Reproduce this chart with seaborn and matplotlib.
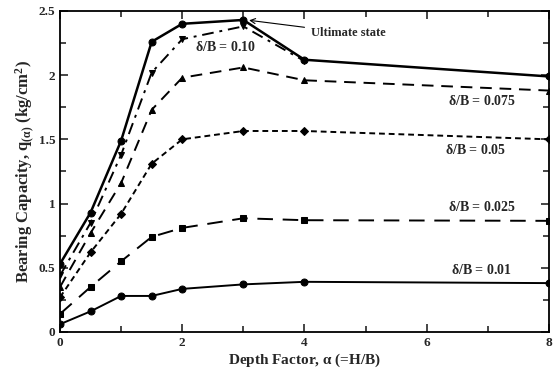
import matplotlib
matplotlib.use("Agg")
import matplotlib.pyplot as plt
import seaborn as sns

# depth factor values
x_full = [0, 0.5, 1, 1.5, 2, 3, 4, 8]
x_010 = [0, 0.5, 1, 1.5, 2, 3, 4]

ultimate = [0.53, 0.93, 1.49, 2.26, 2.40, 2.43, 2.12, 1.99]
db_010 = [0.44, 0.85, 1.38, 2.02, 2.28, 2.38, 2.11]
db_0075 = [0.35, 0.77, 1.16, 1.73, 1.98, 2.06, 1.96, 1.88]
db_005 = [0.27, 0.62, 0.92, 1.31, 1.50, 1.565, 1.565, 1.50]
db_0025 = [0.14, 0.35, 0.55, 0.74, 0.81, 0.885, 0.87, 0.865]
db_001 = [0.06, 0.16, 0.28, 0.28, 0.335, 0.37, 0.39, 0.38]

sns.set_style("ticks")
plt.rcParams['font.family'] = ['Liberation Serif', 'DejaVu Serif']
plt.rcParams['font.weight'] = 'bold'
plt.rcParams['mathtext.fontset'] = 'custom'
plt.rcParams['mathtext.rm'] = 'Liberation Serif:bold'
plt.rcParams['mathtext.it'] = 'Liberation Serif:bold'

fig = plt.figure(figsize=(5.56, 3.78), dpi=100)
ax = fig.add_axes([0.108, 0.122, 0.879, 0.849])

k = dict(color='black', ax=ax, markeredgecolor='black')
sns.lineplot(x=x_full, y=ultimate, marker='o', markersize=5, linewidth=1.8, **k)
sns.lineplot(x=x_010, y=db_010, marker='v', markersize=5, linewidth=1.4, linestyle=(0, (6, 3, 1.5, 3)), **k)
sns.lineplot(x=x_full, y=db_0075, marker='^', markersize=5, linewidth=1.4, linestyle=(0, (6, 4)), **k)
sns.lineplot(x=x_full, y=db_005, marker='D', markersize=4, linewidth=1.4, linestyle=(0, (3, 2)), **k)
sns.lineplot(x=x_full, y=db_0025, marker='s', markersize=5, linewidth=1.4, linestyle=(0, (8, 5)), **k)
sns.lineplot(x=x_full, y=db_001, marker='o', markersize=5, linewidth=1.4, **k)

ax.set_xlim(0, 8)
ax.set_ylim(0, 2.5)
ax.set_xticks([0, 2, 4, 6, 8])
ax.set_xticks([1, 3, 5, 7], minor=True)
ax.set_yticks([0, 0.5, 1, 1.5, 2, 2.5])
ax.set_yticklabels(['0', '0.5', '1', '1.5', '2', '2.5'])
ax.set_yticks([0.25, 0.75, 1.25, 1.75, 2.25], minor=True)
ax.tick_params(which='both', direction='in', top=True, right=True, labelsize=9.5, width=1.2)
ax.tick_params(which='major', length=6)
ax.tick_params(which='minor', length=4)
for s in ax.spines.values():
    s.set_linewidth(1.3)
    s.set_color('black')

ax.set_xlabel(r'Depth Factor, $\alpha$ (=H/B)', fontsize=11, fontweight='bold', labelpad=2)
ax.set_ylabel(r'Bearing Capacity, q$_{(\alpha)}$ (kg/cm$^2$)', fontsize=12, fontweight='bold', labelpad=2)

ax.annotate('Ultimate state', xy=(3.05, 2.43), xytext=(4.1, 2.33), fontsize=9, fontweight='bold',
            va='center', arrowprops=dict(arrowstyle='->', color='black', lw=0.8))
ax.text(2.7, 2.22, r'$\delta$/B = 0.10', fontsize=10, ha='center', va='center')
ax.text(6.9, 1.80, r'$\delta$/B = 0.075', fontsize=10, ha='center', va='center')
ax.text(6.8, 1.42, r'$\delta$/B = 0.05', fontsize=10, ha='center', va='center')
ax.text(6.9, 0.97, r'$\delta$/B = 0.025', fontsize=10, ha='center', va='center')
ax.text(6.9, 0.48, r'$\delta$/B = 0.01', fontsize=10, ha='center', va='center')

fig.savefig('out.png', dpi=100)
